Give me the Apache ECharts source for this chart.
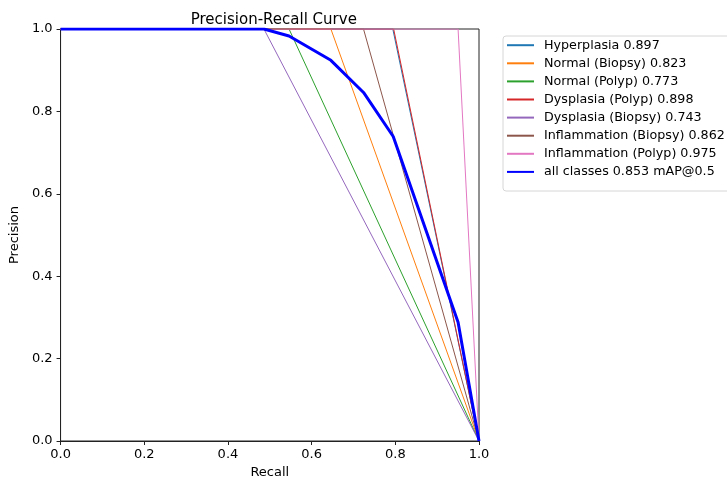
<!DOCTYPE html>
<html><head><meta charset="utf-8">
<script src="https://cdn.jsdelivr.net/npm/echarts@6/dist/echarts.min.js"></script>
<style>html,body{margin:0;padding:0;background:#fff}#c{width:727px;height:484px}</style>
</head><body><div id="c"></div>
<script>
const classNames = ["Hyperplasia","Normal (Biopsy)","Normal (Polyp)","Dysplasia (Polyp)","Dysplasia (Biopsy)","Inflammation (Biopsy)","Inflammation (Polyp)"];
const classAP = ["0.897","0.823","0.773","0.898","0.743","0.862","0.975"];
const classColors = ["#1f77b4","#ff7f0e","#2ca02c","#d62728","#9467bd","#8c564b","#e377c2"];
// recall points and precision points for each class curve
const classRecall = [
  [0, 0.794, 1],
  [0, 0.646, 1],
  [0, 0.546, 1],
  [0, 0.796, 1],
  [0, 0.486, 1],
  [0, 0.724, 1],
  [0, 0.950, 1]
];
const classPrecision = [
  [1, 1, 0],[1, 1, 0],[1, 1, 0],[1, 1, 0],[1, 1, 0],[1, 1, 0],[1, 1, 0]
];
const meanName = "all classes 0.853 mAP@0.5";
const meanRecall = [0, 0.486, 0.546, 0.646, 0.724, 0.795, 0.950, 1];
const meanPrecision = [1, 1, 0.983, 0.924, 0.846, 0.739, 0.288, 0];

const FONT = "DejaVu Sans";
const series = classNames.map((n, i) => ({
  name: n + " " + classAP[i],
  type: "line",
  data: classRecall[i].map((r, j) => [r, classPrecision[i][j]]),
  showSymbol: false, symbol: "none",
  lineStyle: {color: classColors[i], width: 1},
  itemStyle: {color: classColors[i]},
  silent: true, animation: false, z: 2
}));
series.push({
  name: meanName,
  type: "line",
  data: meanRecall.map((r, j) => [r, meanPrecision[j]]),
  showSymbol: false, symbol: "none",
  lineStyle: {color: "#0000ff", width: 3},
  itemStyle: {color: "#0000ff"},
  silent: true, animation: false, z: 3
});

const chart = echarts.init(document.getElementById("c"), null, {renderer: "canvas"});
chart.setOption({
  animation: false,
  title: {text: "Precision-Recall Curve", left: 268.8, top: 8, textAlign: "center",
    textStyle: {fontFamily: FONT, fontSize: 15, fontWeight: "normal", color: "#000"}},
  grid: {left: 58, right: 248, top: 29, bottom: 38, show: true, borderColor: "#222", borderWidth: 1, containLabel: false},
  graphic: [{type: "rect", left: 502.5, top: 35.5, shape: {width: 240, height: 155, r: 3},
    style: {fill: "#fff", stroke: "#d6d6d6", lineWidth: 1}, z: 0, silent: true}],
  legend: {
    orient: "vertical", left: 506, top: 38.7,
    padding: 0,
    itemWidth: 27, itemHeight: 14, itemGap: 5.1,
    itemStyle: {opacity: 0},
    textStyle: {fontFamily: FONT, fontSize: 12.7, color: "#000", padding: [0, 0, 0, 5]},
    data: series.map(s => s.name),
    z: 5
  },
  xAxis: {
    type: "value", min: 0, max: 1, interval: 0.2,
    name: "Recall", nameLocation: "middle", nameGap: 25,
    nameTextStyle: {fontFamily: FONT, fontSize: 13, color: "#000"},
    axisLine: {show: true, lineStyle: {color: "#222", width: 1}},
    axisTick: {show: true, inside: false, length: 4, lineStyle: {color: "#222"}},
    axisLabel: {fontFamily: FONT, fontSize: 13, color: "#000", margin: 7, formatter: v => v.toFixed(1)},
    splitLine: {show: false}
  },
  yAxis: {
    type: "value", min: 0, max: 1, interval: 0.2,
    name: "Precision", nameLocation: "middle", nameGap: 32,
    nameTextStyle: {fontFamily: FONT, fontSize: 13, color: "#000"},
    axisLine: {show: true, lineStyle: {color: "#222", width: 1}},
    axisTick: {show: true, inside: false, length: 4, lineStyle: {color: "#222"}},
    axisLabel: {fontFamily: FONT, fontSize: 13, color: "#000", margin: 8, formatter: v => v.toFixed(1)},
    splitLine: {show: false}
  },
  series: series
});
</script></body></html>
